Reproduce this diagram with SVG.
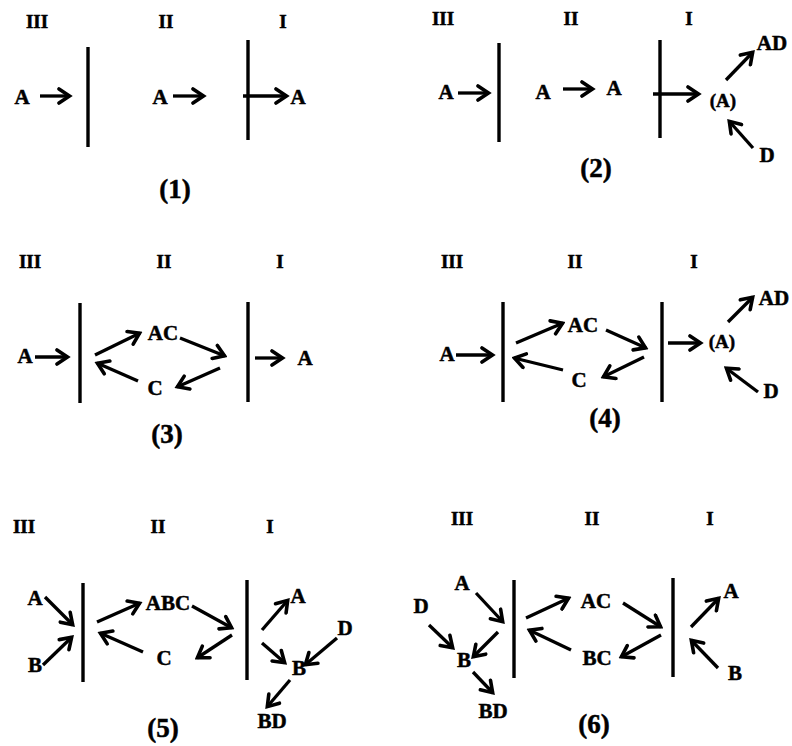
<svg xmlns="http://www.w3.org/2000/svg" width="792" height="746" viewBox="0 0 792 746">
<defs>
<marker id="ah" markerUnits="userSpaceOnUse" viewBox="0 0 16 18" refX="13.5" refY="9" markerWidth="16" markerHeight="18" orient="auto">
<path d="M2.5,2 L13,9 L2.5,16" fill="none" stroke="#000" stroke-width="3.6" stroke-linecap="round" stroke-linejoin="miter"/>
</marker>
<style>
text{font-family:"Liberation Serif","Times New Roman",serif;font-weight:bold;fill:#000;stroke:#000;stroke-width:0.5;text-anchor:middle}
.z{font-size:19px}
.l{font-size:21px}
.s{font-size:19px}
.c{font-size:27px}
.bar{stroke:#000;stroke-width:3.4;fill:none}
.ar{stroke:#000;stroke-width:3.3;fill:none;marker-end:url(#ah)}
</style>
</defs>
<rect width="792" height="746" fill="#fff"/>

<g id="panel1">
<text class="z" x="37" y="28">III</text><text class="z" x="166" y="28">II</text><text class="z" x="283" y="28">I</text>
<text class="l" x="22" y="104">A</text>
<text class="l" x="160" y="104">A</text>
<text class="l" x="298" y="104">A</text>
<text class="c" x="175" y="198">(1)</text>
<line class="bar" x1="88" y1="47" x2="88" y2="147"/>
<line class="bar" x1="248" y1="40" x2="248" y2="140"/>
</g>

<g id="panel2">
<text class="z" x="443" y="25">III</text><text class="z" x="571" y="25">II</text><text class="z" x="689" y="25">I</text>
<text class="l" x="446" y="99">A</text>
<text class="l" x="543" y="99">A</text>
<text class="l" x="614" y="95">A</text>
<text class="s" x="723" y="107">(A)</text>
<text class="l" x="772" y="50">AD</text>
<text class="l" x="767" y="162">D</text>
<text class="c" x="596" y="177">(2)</text>
<line class="bar" x1="499" y1="43" x2="499" y2="142"/>
<line class="bar" x1="660" y1="40" x2="660" y2="138"/>
</g>

<g id="panel3">
<text class="z" x="30" y="268">III</text><text class="z" x="164" y="268">II</text><text class="z" x="280" y="268">I</text>
<text class="l" x="25" y="363">A</text>
<text class="l" x="163" y="340">AC</text>
<text class="l" x="305" y="365">A</text>
<text class="l" x="155" y="395">C</text>
<text class="c" x="167" y="443">(3)</text>
<line class="bar" x1="80" y1="303" x2="80" y2="403"/>
<line class="bar" x1="248" y1="302" x2="248" y2="402"/>
</g>

<g id="panel4">
<text class="z" x="452" y="268">III</text><text class="z" x="575" y="268">II</text><text class="z" x="694" y="268">I</text>
<text class="l" x="447" y="361">A</text>
<text class="l" x="583" y="332">AC</text>
<text class="s" x="722" y="348">(A)</text>
<text class="l" x="774" y="305">AD</text>
<text class="l" x="771" y="398">D</text>
<text class="l" x="579" y="387">C</text>
<text class="c" x="605" y="427">(4)</text>
<line class="bar" x1="503" y1="302" x2="503" y2="402"/>
<line class="bar" x1="662" y1="302" x2="662" y2="402"/>
</g>

<g id="panel5">
<text class="z" x="24" y="533">III</text><text class="z" x="158" y="533">II</text><text class="z" x="270" y="533">I</text>
<text class="l" x="35" y="605">A</text>
<text class="l" x="35" y="672">B</text>
<text class="l" x="168" y="610">ABC</text>
<text class="l" x="164" y="665">C</text>
<text class="l" x="298" y="603">A</text>
<text class="l" x="299" y="675">B</text>
<text class="l" x="345" y="635">D</text>
<text class="l" x="272" y="728">BD</text>
<text class="c" x="163" y="737">(5)</text>
<line class="bar" x1="83" y1="583" x2="83" y2="682"/>
<line class="bar" x1="247" y1="580" x2="247" y2="680"/>
</g>

<g id="panel6">
<text class="z" x="462" y="525">III</text><text class="z" x="592" y="525">II</text><text class="z" x="710" y="525">I</text>
<text class="l" x="462" y="590">A</text>
<text class="l" x="421" y="613">D</text>
<text class="l" x="464" y="667">B</text>
<text class="l" x="493" y="718">BD</text>
<text class="l" x="596" y="608">AC</text>
<text class="l" x="597" y="665">BC</text>
<text class="l" x="731" y="598">A</text>
<text class="l" x="735" y="680">B</text>
<text class="c" x="594" y="733">(6)</text>
<line class="bar" x1="514" y1="580" x2="514" y2="678"/>
<line class="bar" x1="673" y1="578" x2="673" y2="677"/>
</g>

<g id="connectors">
<line class="ar" x1="40" y1="96" x2="70" y2="96"/>
<line class="ar" x1="173" y1="96" x2="204" y2="96"/>
<line class="ar" x1="243" y1="96" x2="287" y2="96"/>

<line class="ar" x1="458" y1="93" x2="489" y2="93"/>
<line class="ar" x1="563" y1="89" x2="593" y2="89"/>
<line class="ar" x1="653" y1="94" x2="699" y2="94"/>
<line class="ar" x1="726" y1="80" x2="753" y2="52"/>
<line class="ar" x1="753" y1="148" x2="729" y2="121"/>

<line class="ar" x1="35" y1="357" x2="68" y2="357"/>
<line class="ar" x1="95" y1="355" x2="140" y2="333"/>
<line class="ar" x1="180" y1="338" x2="225" y2="356"/>
<line class="ar" x1="255" y1="358" x2="283" y2="358"/>
<line class="ar" x1="220" y1="368" x2="177" y2="387"/>
<line class="ar" x1="138" y1="381" x2="97" y2="363"/>

<line class="ar" x1="456" y1="355" x2="493" y2="355"/>
<line class="ar" x1="516" y1="343" x2="563" y2="323"/>
<line class="ar" x1="606" y1="330" x2="646" y2="348"/>
<line class="ar" x1="668" y1="343" x2="701" y2="343"/>
<line class="ar" x1="728" y1="322" x2="753" y2="297"/>
<line class="ar" x1="758" y1="392" x2="726" y2="368"/>
<line class="ar" x1="644" y1="357" x2="603" y2="377"/>
<line class="ar" x1="563" y1="370" x2="514" y2="358"/>

<line class="ar" x1="45" y1="597" x2="73" y2="625"/>
<line class="ar" x1="43" y1="665" x2="72" y2="637"/>
<line class="ar" x1="97" y1="622" x2="140" y2="603"/>
<line class="ar" x1="192" y1="606" x2="232" y2="628"/>
<line class="ar" x1="232" y1="635" x2="197" y2="658"/>
<line class="ar" x1="143" y1="652" x2="100" y2="633"/>
<line class="ar" x1="262" y1="630" x2="288" y2="600"/>
<line class="ar" x1="262" y1="643" x2="285" y2="663"/>
<line class="ar" x1="337" y1="638" x2="305" y2="665"/>
<line class="ar" x1="290" y1="680" x2="267" y2="707"/>

<line class="ar" x1="476" y1="593" x2="503" y2="622"/>
<line class="ar" x1="429" y1="625" x2="453" y2="648"/>
<line class="ar" x1="498" y1="632" x2="473" y2="657"/>
<line class="ar" x1="473" y1="672" x2="493" y2="693"/>
<line class="ar" x1="526" y1="618" x2="569" y2="598"/>
<line class="ar" x1="623" y1="603" x2="661" y2="627"/>
<line class="ar" x1="661" y1="635" x2="621" y2="657"/>
<line class="ar" x1="571" y1="650" x2="529" y2="630"/>
<line class="ar" x1="691" y1="627" x2="719" y2="598"/>
<line class="ar" x1="718" y1="668" x2="691" y2="640"/>
</g>
</svg>
